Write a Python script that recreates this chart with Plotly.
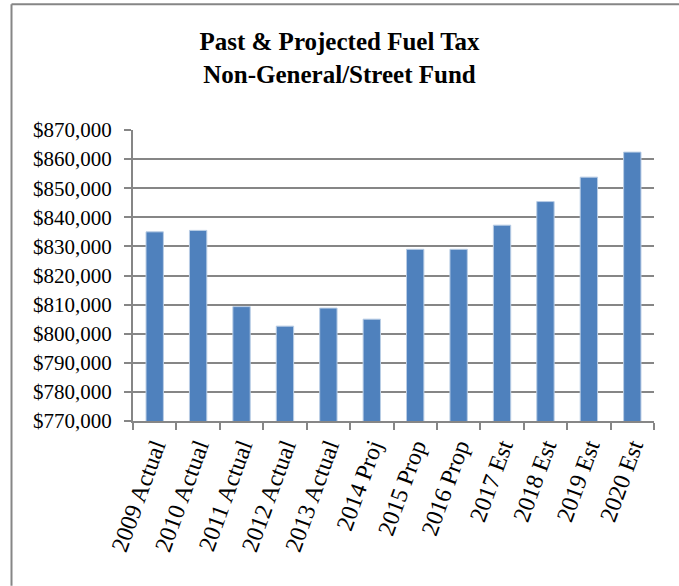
import plotly.graph_objects as go

categories = ["2009 Actual", "2010 Actual", "2011 Actual", "2012 Actual", "2013 Actual",
              "2014 Proj", "2015 Prop", "2016 Prop", "2017 Est", "2018 Est", "2019 Est", "2020 Est"]
values = [835000, 835500, 809300, 802600, 808800, 805000, 829000, 829000, 837300, 845400, 853800, 862400]
y_ticks = [770000, 780000, 790000, 800000, 810000, 820000, 830000, 840000, 850000, 860000, 870000]
y_tick_labels = ["$%s" % format(v, ",") for v in y_ticks]
title_lines = ["Past & Projected Fuel Tax", "Non-General/Street Fund"]

W, H = 679, 586
L, R, T, B = 133, 25, 129.5, 165

fig = go.Figure(go.Bar(
    x=categories, y=values,
    marker=dict(color="#4F81BD", line=dict(color="#B9CDE5", width=1)),
    width=0.4,
))

serif = "Liberation Serif, Times New Roman, serif"
gray = "#868686"

fig.update_layout(
    width=W, height=H,
    margin=dict(l=L, r=R, t=T, b=B),
    paper_bgcolor="white", plot_bgcolor="white",
    showlegend=False,
    font=dict(family=serif, color="black"),
    title=dict(
        text="<b>" + "<br>".join(title_lines) + "</b>",
        x=0.5, xanchor="center", xref="container",
        y=1 - 50 / H, yanchor="top",
        font=dict(family=serif, size=25, color="black"),
    ),
    xaxis=dict(
        type="category",
        tickangle=-70,
        tickfont=dict(family=serif, size=24, color="black"),
        showline=True, linecolor=gray, linewidth=2,
        ticks="outside", tickson="boundaries", ticklen=7, tickcolor=gray, tickwidth=2,
        showgrid=False,
    ),
    yaxis=dict(
        range=[770000, 870000],
        tickvals=y_ticks, ticktext=y_tick_labels,
        tickfont=dict(family=serif, size=21, color="black"),
        showline=True, linecolor=gray, linewidth=2,
        ticks="outside", ticklen=7, tickcolor=gray, tickwidth=2,
        showgrid=True, gridcolor=gray, gridwidth=2,
        zeroline=False,
        ticklabelstandoff=8,
    ),
    shapes=[
        dict(type="line", xref="paper", yref="paper",
             x0=(11.5 - L) / (W - L - R), x1=(11.5 - L) / (W - L - R),
             y0=(H - B - 3.5) / (H - T - B), y1=-(B) / (H - T - B),
             line=dict(color=gray, width=2)),
        dict(type="line", xref="paper", yref="paper",
             x0=(11.5 - L) / (W - L - R), x1=(W - L) / (W - L - R),
             y0=(H - B - 3.5) / (H - T - B), y1=(H - B - 3.5) / (H - T - B),
             line=dict(color=gray, width=2)),
    ],
)

fig.write_html("out.html")
